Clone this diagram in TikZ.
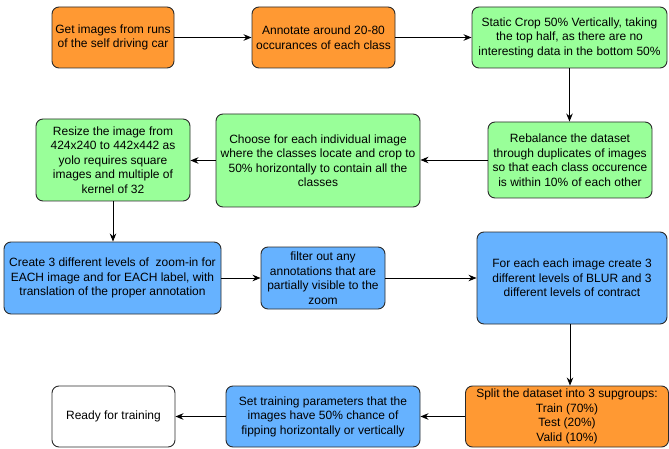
\documentclass[tikz,border=0pt]{standalone}
\usepackage{fontspec}
\setmainfont{Liberation Sans}
\usetikzlibrary{arrows.meta,calc}
\definecolor{ink}{HTML}{2B2B2B}
\definecolor{orange}{HTML}{FF9933}
\definecolor{green}{HTML}{99FF99}
\definecolor{blue}{HTML}{66B2FF}

\begin{document}
\begin{tikzpicture}[x=1pt,y=-1pt,>={Stealth[length=8pt,width=6.5pt]},
  box/.style={draw=ink,line width=0.9pt,rounded corners=7pt,align=center,inner sep=1pt,
    font=\fontsize{12}{14.5}\selectfont,text=black},
  flow/.style={->,line width=0.9pt,draw=black}]
\useasboundingbox (0,0) rectangle (669,449);
% row 1
\node[box,fill=orange,minimum width=122pt,minimum height=61pt] (get) at (113,37.5) {Get images from runs\\of the self driving car};
\node[box,fill=orange,minimum width=143pt,minimum height=61pt] (annot) at (323.5,37.5) {Annotate around 20-80\\occurances of each class};
\node[box,fill=green,minimum width=195pt,minimum height=61pt] (crop) at (569.5,37.5) {Static Crop 50\% Vertically, taking\\the top half, as there are no\\interesting data in the bottom 50\%};
% row 2
\node[box,fill=green,minimum width=164pt,minimum height=76pt] (rebal) at (570,160) {Rebalance the dataset\\through duplicates of images\\so that each class occurence\\is within 10\% of each other};
\node[box,fill=green,minimum width=204pt,minimum height=93pt] (choose) at (318,160.5) {Choose for each individual image\\where the classes locate and crop to\\50\% horizontally to contain all the\\classes};
\node[box,fill=green,minimum width=154pt,minimum height=82pt] (resize) at (113,160) {Resize the image from\\424x240 to 442x442 as\\yolo requires square\\images and multiple of\\kernel of 32};
% row 3
\node[box,fill=blue,minimum width=217pt,minimum height=72pt] (zoomin) at (112.5,278) {Create 3 different levels of\ \ zoom-in for\\EACH image and for EACH label, with\\translation of the proper annotation};
\node[box,fill=blue,minimum width=124pt,minimum height=62pt] (filter) at (323,278) {filter out any\\annotations that are\\partially visible to the\\zoom};
\node[box,fill=blue,minimum width=190pt,minimum height=92pt] (blur) at (572,278) {For each each image create 3\\different levels of BLUR and 3\\different levels of contract};
% row 4
\node[box,fill=orange,minimum width=203pt,minimum height=61pt] (split) at (567,416.5) {Split the dataset into 3 supgroups:\\Train (70\%)\\Test (20\%)\\Valid (10\%)};
\node[box,fill=blue,minimum width=194pt,minimum height=61pt] (params) at (323,416.5) {Set training parameters that the\\images have 50\% chance of\\fipping horizontally or vertically};
\node[box,fill=white,minimum width=123pt,minimum height=61pt] (ready) at (113.5,416.5) {Ready for training};
% arrows
\draw[flow] (get) -- (annot);
\draw[flow] (annot) -- (crop);
\draw[flow] (crop.south) -- (crop.south |- rebal.north);
\draw[flow] (rebal) -- (rebal.west -| choose.east);
\draw[flow] (choose) -- (choose.west -| resize.east);
\draw[flow] (resize.south) -- (resize.south |- zoomin.north);
\draw[flow] (zoomin) -- (filter);
\draw[flow] (filter) -- (blur);
\draw[flow] ($(blur.south)+(-2,0)$) -- ($(blur.south |- split.north)+(-2,0)$);
\draw[flow] (split) -- (params);
\draw[flow] (params) -- (ready);
\end{tikzpicture}
\end{document}
